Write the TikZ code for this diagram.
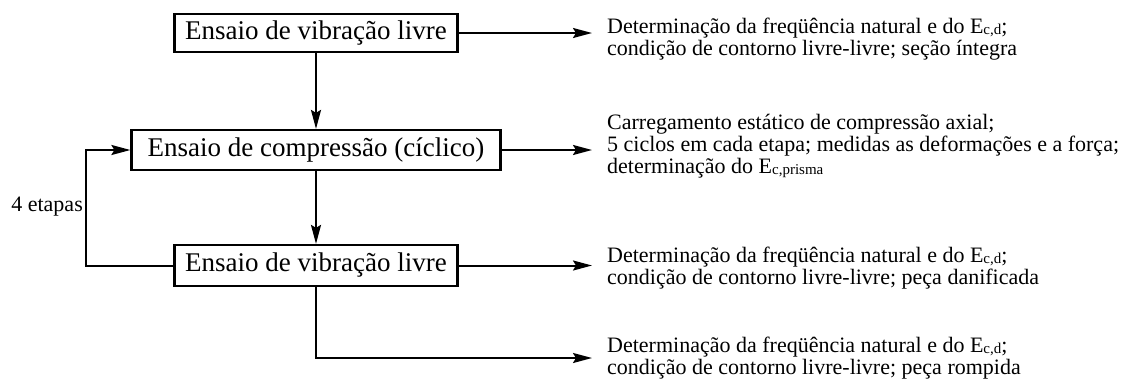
\documentclass[tikz,border=0pt]{standalone}
\usepackage{fontspec}
\setmainfont{Liberation Serif}
\usepackage{tikz}
\usetikzlibrary{arrows.meta}

\newcommand{\subidx}[1]{\raisebox{-1pt}{\fontsize{15}{15}\selectfont #1}}

\tikzset{
  ensaio/.style={draw,line width=2.2pt,inner sep=0pt,font=\fontsize{27}{30}\selectfont},
  nota/.style={anchor=base west,align=left,inner sep=0pt,font=\fontsize{22}{22}\selectfont},
  arr/.style={line width=2pt,-{Stealth[length=19pt,width=10pt,inset=3pt]}}
}

\begin{document}
\begin{tikzpicture}[x=1pt,y=-1pt]
  \useasboundingbox (0,0) rectangle (1132,383);

  % --- Ensaios ---
  \node[ensaio,minimum width=283pt,minimum height=38pt] (vib1) at (316,33) {Ensaio de vibração livre};
  \node[ensaio,minimum width=369pt,minimum height=40pt] (comp) at (316,150) {Ensaio de compressão (cíclico)};
  \node[ensaio,minimum width=283pt,minimum height=41pt] (vib2) at (316,265.5) {Ensaio de vibração livre};

  % --- Descricoes (base = last line) ---
  \node[nota] (d1) at (607,55) {Determinação da freqüência natural e do E\subidx{c,d};\\condição de contorno livre-livre; seção íntegra};
  \node[nota] (d2) at (607,173) {Carregamento estático de compressão axial;\\5 ciclos em cada etapa; medidas as deformações e a força;\\determinação do E\subidx{c,prisma}};
  \node[nota] (d3) at (607,284) {Determinação da freqüência natural e do E\subidx{c,d};\\condição de contorno livre-livre; peça danificada};
  \node[nota] (d4) at (607,374) {Determinação da freqüência natural e do E\subidx{c,d};\\condição de contorno livre-livre; peça rompida};

  % free ends of the arrows
  \coordinate (e1) at (592,33);
  \coordinate (e2) at (592,150);
  \coordinate (e3) at (592,265.5);
  \coordinate (e4) at (592,358);
  \coordinate (volta) at (86,265.5);

  % --- Ligacoes ---
  \draw[arr] (vib1.east) -- (e1);
  \draw[arr] (comp.east) -- (e2);
  \draw[arr] (vib2.east) -- (e3);
  \draw[arr] (vib1.south) -- (comp.north);
  \draw[arr] (comp.south) -- (vib2.north);
  \draw[arr] (vib2.south) |- (e4);
  \draw[arr] (vib2.west) -- (volta) |- (comp.west);

  \node[anchor=base east,inner sep=0pt,font=\fontsize{22}{22}\selectfont] (etapas) at (83,211) {4 etapas};
\end{tikzpicture}
\end{document}
